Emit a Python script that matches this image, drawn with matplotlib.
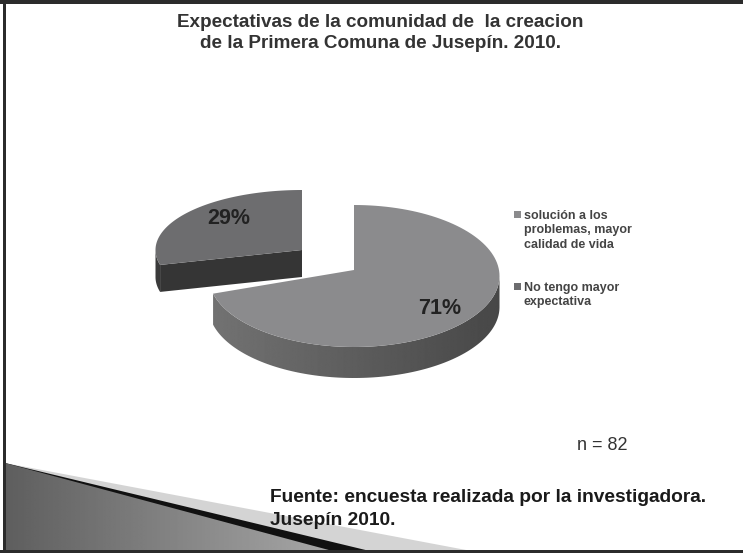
import matplotlib
matplotlib.use("Agg")
import matplotlib.pyplot as plt
from matplotlib.patches import Polygon, Rectangle
import numpy as np

# data
labels = ["solución a los\nproblemas, mayor\ncalidad de vida", "No tengo mayor\nexpectativa"]
values = [71, 29]
pct_labels = ["71%", "29%"]
title = "Expectativas de la comunidad de  la creacion\nde la Primera Comuna de Jusepín. 2010."
n_text = "n = 82"
source = "Fuente: encuesta realizada por la investigadora.\nJusepín 2010."

W, H = 743, 553
fig = plt.figure(figsize=(W / 100, H / 100), dpi=100)
ax = fig.add_axes([0, 0, 1, 1])
ax.set_xlim(0, W)
ax.set_ylim(H, 0)
ax.axis("off")

# slide frame
ax.add_patch(Rectangle((0, 0), W, 3.5, color="#2b2b2b", lw=0, zorder=10))
ax.add_patch(Rectangle((3, 0), 3, H, color="#2b2b2b", lw=0, zorder=10))
ax.add_patch(Rectangle((0, 550), W, 3, color="#2b2b2b", lw=0, zorder=10))

# bottom left decoration
ax.add_patch(Polygon([(5, 463), (482, 553), (5, 553)], closed=True, color="#d4d4d4", lw=0, zorder=2))
ax.add_patch(Polygon([(5, 463), (378, 553), (5, 553)], closed=True, color="#111111", lw=0, zorder=3))
gray = Polygon([(5, 463), (340, 553), (5, 553)], closed=True, color="none", lw=0, zorder=4)
ax.add_patch(gray)
grad = np.linspace(0.37, 0.66, 200)[None, :] * np.ones((20, 1))
im = ax.imshow(grad, extent=[5, 340, 553, 463], cmap="gray", vmin=0, vmax=1,
               aspect="auto", zorder=4)
im.set_clip_path(gray)

# 3D pie slices: (ellipse cx, cy, rx, ry, apex y, depth)
geom = [(354, 276, 145.5, 71, 270, 31),
        (302, 250, 146.5, 60, 250, 27)]
top_colors = ["#8b8b8d", "#6d6d6f"]

fracs = np.array(values) / sum(values)
start = 90.0
angles = []
for f in fracs:
    angles.append((start, start - 360 * f))
    start -= 360 * f


def arc(cx, cy, rx, ry, a0, a1, n=120):
    t = np.radians(np.linspace(a0, a1, n))
    return np.column_stack([cx + rx * np.cos(t), cy - ry * np.sin(t)])


# small slice first (it sits behind), then the big one
for i in [1, 0]:
    cx, cy, rx, ry, ay, d = geom[i]
    a0, a1 = angles[i]
    apex = np.array([cx, ay])
    if i == 0:
        # front rim from the left corner round to 3 o'clock
        pts = arc(cx, cy, rx, ry, a1, 0)
        side = np.vstack([pts, (pts + [0, d])[::-1]])
        poly = Polygon(side, closed=True, color="none", lw=0, zorder=5)
        ax.add_patch(poly)
        g = 0.45 - 0.17 * np.linspace(0, 1, 300)[None, :]
        gim = ax.imshow(g, extent=[cx - rx, cx + rx, cy + ry + d + 2, cy - 5], cmap="gray",
                        vmin=0, vmax=1, aspect="auto", zorder=5)
        gim.set_clip_path(poly)
    else:
        # rim between 9 o'clock and the cut corner, and the cut face
        pts = arc(cx, cy, rx, ry, -180, a0, 30)
        side = np.vstack([pts, (pts + [0, d])[::-1]])
        ax.add_patch(Polygon(side, closed=True, color="#3a3a3a", lw=0, zorder=5))
        corner = arc(cx, cy, rx, ry, a0, a0, 1)[0]
        cut = [apex, corner, corner + [0, d], apex + [0, d]]
        ax.add_patch(Polygon(cut, closed=True, color="#353535", lw=0, zorder=5))
    top = np.vstack([apex, arc(cx, cy, rx, ry, a0, a1)])
    ax.add_patch(Polygon(top, closed=True, color=top_colors[i], lw=0, zorder=6))

# percentage labels
ax.text(440, 309, pct_labels[0], fontsize=15.5, fontweight="bold", color="#222222",
        ha="center", va="center", family="Liberation Sans", zorder=9)
ax.text(229, 218, pct_labels[1], fontsize=15.5, fontweight="bold", color="#222222",
        ha="center", va="center", family="Liberation Sans", zorder=9)

# legend
leg_y = [214, 286]
for yy, col, lab in zip(leg_y, top_colors, labels):
    ax.add_patch(Rectangle((513.5, yy - 3.5), 7, 7, color=col, lw=0, zorder=9))
    ax.text(524, yy - 4, lab, fontsize=9, fontweight="bold", color="#444444",
            ha="left", va="top", family="Liberation Sans", linespacing=1.25, zorder=9)

ax.text(380, 33, title, fontsize=13.6, fontweight="bold", color="#333333",
        ha="center", va="center", family="Liberation Sans", linespacing=1.25, zorder=9)
ax.text(602, 445, n_text, fontsize=13, color="#333333", ha="center", va="center",
        family="Liberation Sans", zorder=9)
ax.text(270, 509, source, fontsize=13.8, fontweight="bold", color="#1a1a1a",
        ha="left", va="center", family="Liberation Sans", linespacing=1.45, zorder=9)

fig.savefig("out.png", dpi=100)
